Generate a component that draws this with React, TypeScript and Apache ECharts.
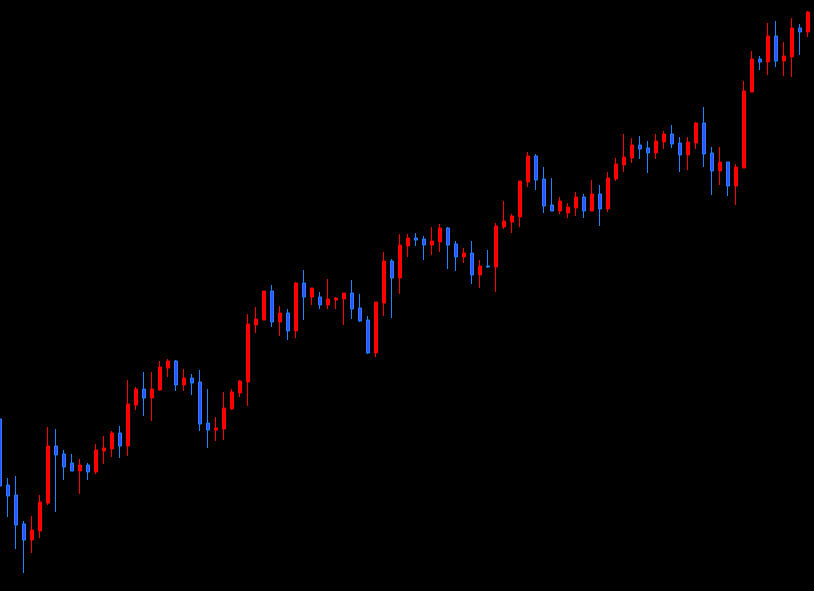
import React, { useEffect, useRef } from "react";
import * as echarts from "echarts";

// OHLC price series (arbitrary price units), one entry per bar, left to right
const opens = [181,115,105,76,60,69,97,154,146,137,129,135,128,149,151,167,154,195,211,202,210,232,239,215,222,218,177,170,171,191,207,218,275,280,309,278,287,269,317,303,303,295,300,301,307,292,280,247,297,339,322,354,362,361,355,358,372,356,343,347,325,334,333,373,378,383,418,444,421,395,389,387,392,403,389,406,391,421,435,442,455,452,447,458,466,457,445,457,477,447,429,438,414,432,508,541,538,564,539,543,572,568,591];
const closes = [114,104,75,60,70,98,154,145,133,129,135,128,150,152,167,154,196,211,202,211,233,239,215,222,217,176,170,172,192,208,219,276,281,309,278,287,269,317,303,312,295,301,302,307,291,279,247,298,339,322,355,362,360,355,359,372,355,343,347,325,334,333,374,379,384,419,444,420,394,389,399,393,403,389,406,391,422,436,443,455,451,447,459,466,456,445,458,477,446,429,438,414,433,509,541,538,564,539,544,572,568,588,598];
const lows = [113,83,51,27,47,62,95,88,120,129,106,120,126,136,143,142,144,190,184,179,209,223,209,209,205,169,152,159,160,190,203,194,267,280,273,264,260,262,280,295,291,291,291,275,281,278,246,243,284,282,306,343,354,340,345,348,331,329,337,316,312,332,308,371,367,373,413,410,387,389,386,382,384,382,389,374,388,419,428,437,441,427,441,451,452,428,430,451,433,405,415,404,395,432,508,530,525,533,524,523,545,563,588];
const highs = [182,122,124,79,84,105,173,171,150,146,141,137,156,164,169,174,220,213,228,228,239,241,240,231,226,230,211,183,208,211,220,286,293,309,315,294,291,318,330,312,308,321,303,307,320,306,284,298,348,341,366,366,367,364,373,376,373,359,352,359,340,350,377,399,386,419,448,446,433,422,403,397,408,406,420,415,428,442,466,462,464,459,466,469,475,463,463,478,493,453,453,438,436,519,549,544,577,579,558,582,576,589,600];
const categories = opens.map((_, i) => `Bar ${i + 1}`);

export default function App() {
  const ref = useRef<HTMLDivElement>(null);
  useEffect(() => {
    if (!ref.current) return;
    const chart = echarts.init(ref.current, null, { renderer: "svg" });
    const data = opens.map((o, i) => [o, closes[i], lows[i], highs[i]]);
    chart.setOption({
      animation: false,
      backgroundColor: "#000000",
      grid: { left: 0, top: 0, right: 0, bottom: 0, containLabel: false },
      xAxis: {
        type: "category",
        data: categories,
        boundaryGap: true,
        show: false,
      },
      yAxis: {
        type: "value",
        min: 9,
        max: 600,
        show: false,
        splitLine: { show: false },
      },
      series: [
        {
          type: "candlestick",
          data,
          barWidth: 4,
          itemStyle: {
            color: "#ff0000",
            color0: "#4048ff",
            borderColor: "#ff0000",
            borderColor0: "#1e84ff",
            borderWidth: 1,
          },
        },
      ],
    });
    return () => chart.dispose();
  }, []);
  return (
    <div style={{ position: "fixed", left: 0, top: 0, width: 814, height: 591, background: "#000", overflow: "hidden" }}>
      <div
        ref={ref}
        style={{ position: "absolute", left: -4.5, top: 0, width: 824, height: 591 }}
      />
    </div>
  );
}
